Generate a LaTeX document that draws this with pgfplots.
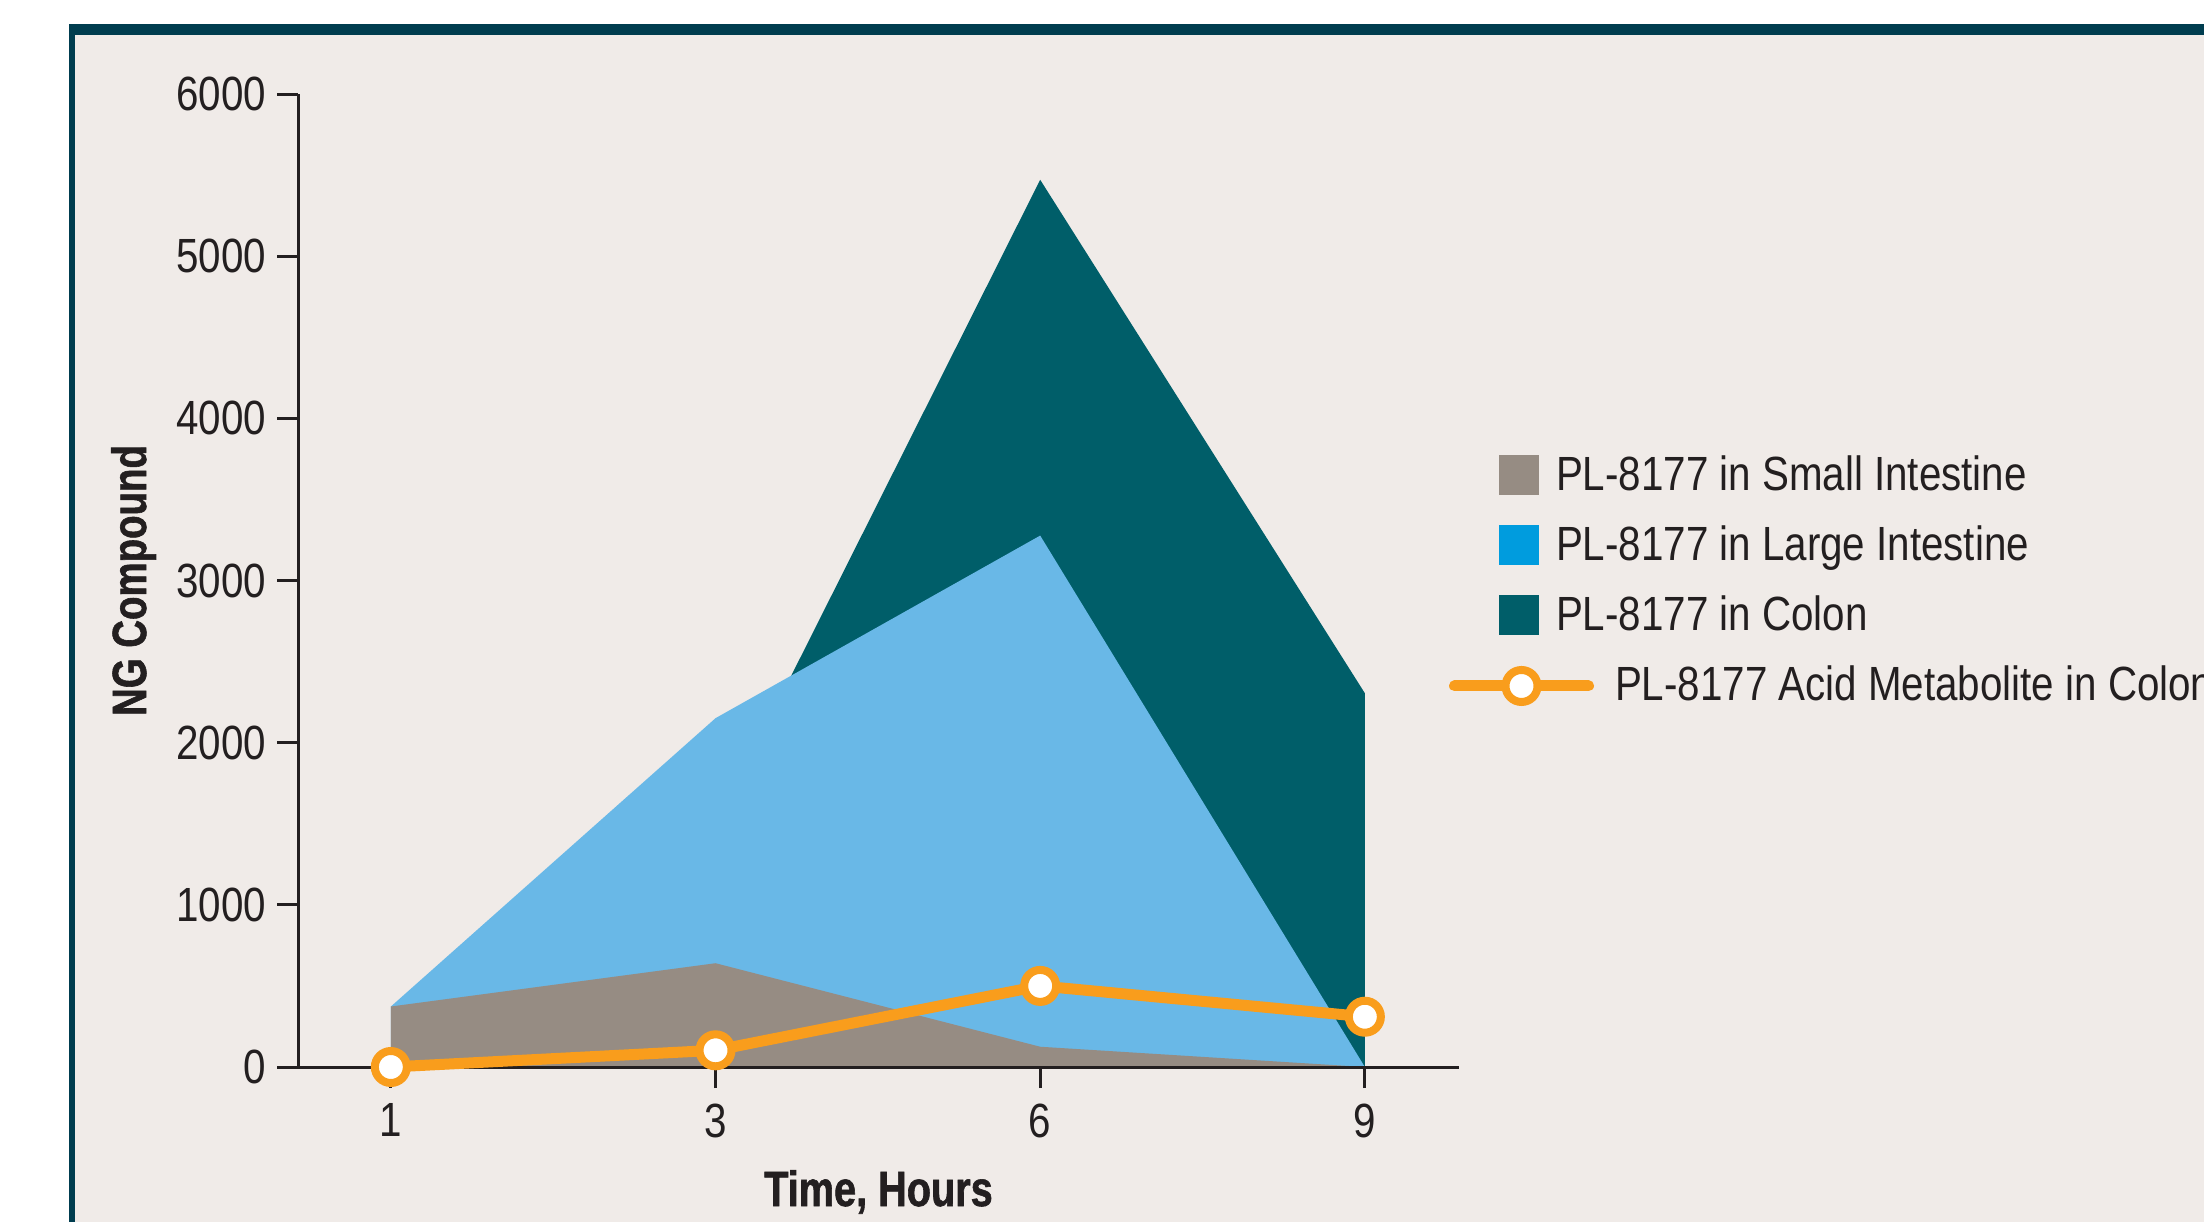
\documentclass[border=0pt]{standalone}
\usepackage{pgfplots}
\usepackage{pgfplotstable}
\pgfplotsset{compat=1.18}
\usepackage{fontspec}
\setmainfont{Liberation Sans}[FakeStretch=0.84]
\newfontfamily\labelfont{Liberation Sans}[FakeStretch=0.8, BoldFeatures={FakeBold=1.2}]

\definecolor{framec}{HTML}{003D4F}
\definecolor{panel}{HTML}{F0EBE8}
\definecolor{smallint}{HTML}{968C83}
\definecolor{largeint}{HTML}{69B8E7}
\definecolor{largeintkey}{HTML}{009CDE}
\definecolor{colon}{HTML}{005E69}
\definecolor{metab}{HTML}{F99D1C}
\definecolor{ink}{HTML}{231F20}

% t: sampling index (1, 3, 6, 9 h), ng of compound per tissue
\pgfplotstableread{
t si  li   co   me
0 373 373  0    0
1 640 2151 1483 103
2 125 3277 5471 500
3 0   0    2305 310
}\data

% square key for the filled curves
\pgfplotsset{
  squarekey/.style={legend image code/.code={
    \fill[#1] (11.375pt,-3.75pt) rectangle (20.875pt,5.75pt);}},
}

\begin{document}
\begin{tikzpicture}
\fill[white] (0,0) rectangle (551pt,305.5pt);
\fill[framec] (17.25pt,0) rectangle (551pt,299.5pt);
\fill[panel] (18.75pt,0) rectangle (551pt,296.75pt);

\begin{axis}[
  at={(74.5pt,38.75pt)}, anchor=south west,
  scale only axis, width=290.25pt, height=243.25pt,
  xmin=-0.286, xmax=3.29, ymin=0, ymax=6000,
  clip=false,
  axis x line=bottom, axis y line=left,
  axis line style={-, ink, line width=0.75pt},
  xtick={0,1,2,3}, xticklabels={1,3,6,9},
  ytick={0,1000,...,6000},
  tick align=outside, major tick length=5.25pt,
  tick style={ink, line width=0.75pt},
  ticklabel style={font=\fontsize{12}{14}\selectfont, text=ink},
  /pgf/number format/assume math mode=true,
  /pgf/number format/1000 sep={},
  xticklabel style={anchor=north, inner sep=0pt, yshift=-3.75pt},
  yticklabel style={anchor=east, inner sep=0pt, xshift=-2.5pt},
  xlabel={\labelfont\bfseries Time, Hours},
  ylabel={\labelfont\bfseries NG Compound},
  xlabel style={font=\fontsize{12.4}{14}\selectfont, text=ink,
    at={(axis description cs:0.5,-0.1429)}, anchor=base},
  ylabel style={font=\fontsize{12}{14}\selectfont, text=ink,
    at={(axis description cs:-0.1309,0.5)}, anchor=base},
  legend style={
    at={(axis description cs:0.9914,0.629)}, anchor=north west,
    draw=none, fill=none, inner sep=0pt, outer sep=0pt,
    row sep=5.5pt, column sep=5.25pt,
    font=\fontsize{12}{14}\selectfont, text=ink,
    nodes={inner sep=0pt, text height=9pt, text depth=3pt},
  },
  legend cell align=left,
]
% filled tissue curves, back to front
\addplot[draw=none, fill=colon, forget plot]
  table[x=t, y=co]{\data} \closedcycle;
\addplot[draw=none, fill=largeint, forget plot]
  table[x=t, y=li]{\data} \closedcycle;
\addplot[draw=none, fill=smallint, forget plot]
  table[x=t, y=si]{\data} \closedcycle;
% baseline over the fills
\draw[ink, line width=0.75pt] (axis cs:-0.286,0) -- (axis cs:3.29,0);

\addlegendimage{squarekey=smallint}
\addlegendentry{\hspace*{-14.75pt}PL-8177 in Small Intestine}
\addlegendimage{squarekey=largeintkey}
\addlegendentry{\hspace*{-14.75pt}PL-8177 in Large Intestine}
\addlegendimage{squarekey=colon}
\addlegendentry{\hspace*{-14.75pt}PL-8177 in Colon}

% acid metabolite
\addplot[metab, line width=2.75pt, mark=*, mark size=4pt,
  mark options={fill=white, draw=metab, line width=2pt},
  legend image code/.code={
    \draw[metab, line width=2.75pt, line cap=round] (0pt,0.75pt) -- (33.5pt,0.75pt);
    \draw[metab, fill=white, line width=2pt] (16.75pt,0.75pt) circle (4pt);
  }]
  table[x=t, y=me]{\data};
\addlegendentry{PL-8177 Acid Metabolite in Colon}
\end{axis}
\pgfresetboundingbox
\path[use as bounding box] (0,0) rectangle (551pt,305.5pt);
\end{tikzpicture}
\end{document}
